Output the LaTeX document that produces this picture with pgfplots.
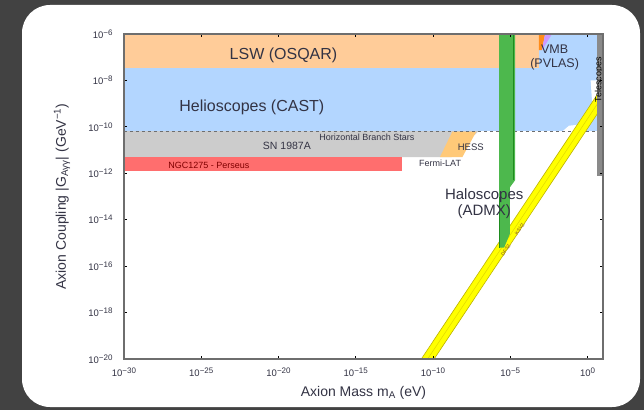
\documentclass[border=0pt]{standalone}
\usepackage{fontspec}
\setmainfont{Liberation Sans}
\usepackage{pgfplots}
\pgfplotsset{compat=1.18}
\definecolor{bgdark}{HTML}{424242}
\definecolor{lsw}{HTML}{FFCC99}
\definecolor{cast}{HTML}{B3D6FF}
\definecolor{sngray}{HTML}{CCCCCC}
\definecolor{ngcred}{HTML}{FF6E6E}
\definecolor{hess}{HTML}{FFC978}
\definecolor{darkor}{HTML}{FF8C1A}
\definecolor{lav}{HTML}{CC99FF}
\definecolor{admx}{HTML}{4DB84D}
\definecolor{admxdark}{HTML}{1E8C1E}
\definecolor{qcd}{HTML}{FFFF00}
\definecolor{qcdedge}{HTML}{BDB300}
\definecolor{qcdmid}{HTML}{E0D800}
\definecolor{telgray}{HTML}{8A8A8A}
\definecolor{axgray}{HTML}{6E6E6E}
\definecolor{txt}{HTML}{333344}
\definecolor{brownlab}{HTML}{8B5A2B}
\newcommand{\tl}[1]{10\raisebox{0.6ex}{\fontsize{8}{9}\selectfont #1}}
\begin{document}
\begin{tikzpicture}
\useasboundingbox (0,0) rectangle (644pt,410pt);
\fill[bgdark] (0,0) rectangle (644pt,410pt);
\fill[white, rounded corners=28pt] (22pt,3pt) rectangle (640pt,405pt);
\begin{axis}[
  at={(124pt,51pt)}, anchor=south west,
  scale only axis, width=479pt, height=325pt,
  xmode=log, ymode=log,
  xmin=1e-30, xmax=1e1, ymin=1e-20, ymax=1e-6,
  xtick={1e-30,1e-25,1e-20,1e-15,1e-10,1e-5,1},
  xticklabels={\tl{−30},\tl{−25},\tl{−20},\tl{−15},\tl{−10},\tl{−5},\tl{0}},
  ytick={1e-20,1e-18,1e-16,1e-14,1e-12,1e-10,1e-8,1e-6},
  yticklabels={\tl{−20},\tl{−18},\tl{−16},\tl{−14},\tl{−12},\tl{−10},\tl{−8},\tl{−6}},
  xminorticks=false, yminorticks=false,
  tick align=inside,
  major tick length=3pt,
  axis line style={draw=axgray, line width=1.1pt},
  every tick/.style={black, line width=0.8pt},
  tick label style={font=\fontsize{9.5}{11}\selectfont, text=txt},
  xticklabel style={yshift=-5pt},
  yticklabel style={xshift=-8pt},
  xlabel={Axion Mass m\textsubscript{A} (eV)},
  ylabel={Axion Coupling |G\textsubscript{Aγγ}| (GeV\textsuperscript{−1})},
  label style={font=\fontsize{14}{16}\selectfont, text=txt},
  xlabel style={at={(axis description cs:0.5,-0.103)}, anchor=center},
  ylabel style={at={(axis description cs:-0.1294,0.5)}, anchor=center},
  axis on top,
]
% Helioscopes (CAST)
\addplot[fill=cast, draw=none] coordinates {(1e-30,1e-6) (3.981,1e-6) (3.981,6.607e-11) (1e-30,6.607e-11)} -- cycle;
% LSW (OSQAR)
\addplot[fill=lsw, draw=none] coordinates {(1e-30,1e-6) (7.079e-4,1e-6) (7.079e-4,3.467e-8) (1e-30,3.467e-8)} -- cycle;
% VMB slivers
\addplot[fill=darkor, draw=none] coordinates {(7.079e-4,1e-6) (1.778e-3,1e-6) (1.122e-3,2.0e-7) (7.079e-4,2.0e-7)} -- cycle;
\addplot[fill=lav, draw=none] coordinates {(1.778e-3,1e-6) (5.012e-3,1e-6) (1.122e-3,2.0e-7)} -- cycle;
% white notches in blue
\addplot[fill=white, draw=none] coordinates {(2.512e-2,6.607e-11) (0.3236,6.607e-11) (0.3236,1.259e-10) (6.31e-2,1.122e-10)} -- cycle;
\addplot[fill=white, draw=none] coordinates {(1.585,1e-8) (3.981,1e-8) (3.981,6.31e-10) (1.995,1e-9)} -- cycle;
% SN 1987A
\addplot[fill=sngray, draw=none] coordinates {(1e-30,6.607e-11) (8.913e-8,6.607e-11) (1.585e-9,5.012e-12) (1e-30,5.012e-12)} -- cycle;
% NGC1275 - Perseus
\addplot[fill=ngcred, draw=none] coordinates {(1e-30,5.012e-12) (1e-12,5.012e-12) (1e-12,1.259e-12) (1e-30,1.259e-12)} -- cycle;
% HESS
\addplot[fill=hess, draw=none] coordinates {(2.818e-10,5.012e-12) (7.943e-9,5.012e-12) (6.31e-8,6.31e-11) (1.778e-9,6.31e-11)} -- cycle;
% Horizontal branch stars
\addplot[draw=axgray, dashed, line width=0.6pt] coordinates {(1e-30,6.607e-11) (3.981,6.607e-11)};
% QCD axion band
\addplot[fill=qcd, draw=qcdedge, line width=0.6pt] coordinates {(1.738e-11,1e-20) (1.175e-10,1e-20) (10,8.511e-10) (10,5.754e-9)} -- cycle;
\addplot[draw=qcdmid, line width=0.5pt] coordinates {(4.467e-11,1e-20) (10,2.239e-9)};
% ADMX
\addplot[fill=admx, draw=none] coordinates {(1.862e-6,1e-6) (2.042e-5,1e-6) (2.042e-5,5.012e-13) (9.550e-6,2.512e-13) (9.550e-6,2.512e-15) (3.981e-6,6.310e-16) (1.862e-6,6.310e-16)} -- cycle;
\addplot[draw=admxdark, line width=1pt] coordinates {(1.514e-5,1e-6) (1.514e-5,5.012e-13)};
\addplot[draw=admxdark, line width=0.8pt] coordinates {(1.862e-6,1e-13) (1.862e-6,6.310e-16)};
% Telescopes
\addplot[fill=telgray, draw=none] coordinates {(4.169,1e-6) (10,1e-6) (10,7.943e-13) (4.169,7.943e-13)} -- cycle;
% labels
\node[font=\fontsize{16}{18}\selectfont, text=txt] at (rel axis cs:0.333,0.935) {LSW (OSQAR)};
\node[font=\fontsize{16}{18}\selectfont, text=txt] at (rel axis cs:0.267,0.775) {Helioscopes (CAST)};
\node[font=\fontsize{9}{10}\selectfont, text=txt] at (rel axis cs:0.507,0.683) {Horizontal Branch Stars};
\node[font=\fontsize{10.5}{12}\selectfont, text=txt] at (rel axis cs:0.340,0.657) {SN 1987A};
\node[font=\fontsize{9}{10}\selectfont, text=red!50!black] at (rel axis cs:0.177,0.597) {NGC1275 - Perseus};
\node[font=\fontsize{9.5}{10}\selectfont, text=txt] at (rel axis cs:0.724,0.652) {HESS};
\node[font=\fontsize{9}{10}\selectfont, text=txt] at (rel axis cs:0.660,0.603) {Fermi-LAT};
\node[font=\fontsize{12.5}{14}\selectfont, text=txt, align=center, inner sep=0pt] at (rel axis cs:0.899,0.929) {VMB\\(PVLAS)};
\node[font=\fontsize{15}{16}\selectfont, text=txt, align=center, inner sep=0pt] at (rel axis cs:0.752,0.478) {Haloscopes\\(ADMX)};
\node[font=\fontsize{9}{10}\selectfont, text=black, rotate=90, inner sep=0pt] at (rel axis cs:0.992,0.86) {Telescopes};
\node[font=\fontsize{5}{6}\selectfont, text=brownlab, rotate=56, inner sep=0pt] at (rel axis cs:0.826,0.40) {KSVZ};
\node[font=\fontsize{5}{6}\selectfont, text=brownlab, rotate=56, inner sep=0pt] at (rel axis cs:0.797,0.335) {DFSZ};
\end{axis}
\end{tikzpicture}
\end{document}
